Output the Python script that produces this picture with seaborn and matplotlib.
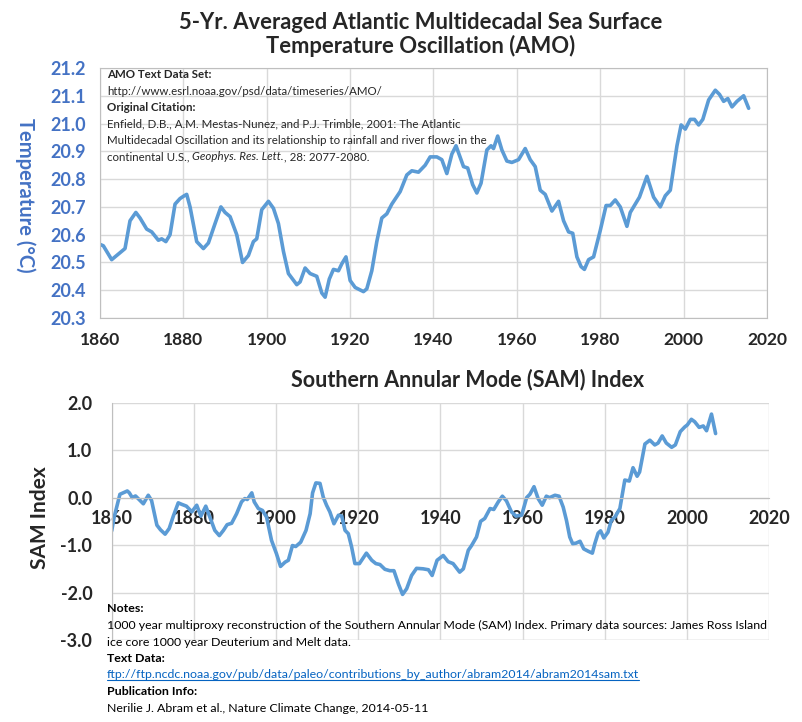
import matplotlib
matplotlib.use("Agg")
import matplotlib.pyplot as plt
import seaborn as sns
import pandas as pd

# AMO, 5-yr averaged
amo_year = [1860, 1860.8, 1862.8, 1865.2, 1866, 1867.2, 1868.6, 1869.6, 1871.2, 1872.4,
            1874, 1874.8, 1875.8, 1876.8, 1878, 1879.2, 1880.2, 1880.8, 1881.6, 1883.2,
            1884.8, 1886, 1887.6, 1889, 1890, 1891.2, 1892.8, 1894.2, 1895.6, 1896.8,
            1897.6, 1898.8, 1900.4, 1901.6, 1902.8, 1904, 1905.2, 1907.2, 1908, 1909.2,
            1910.4, 1912, 1913.2, 1914, 1915, 1916, 1917.2, 1918, 1919, 1920,
            1921.2, 1923.2, 1924, 1925.2, 1926.4, 1927.6, 1928.8, 1930, 1932, 1933.6,
            1934.8, 1936.4, 1938, 1939.2, 1940.8, 1942, 1943.2, 1944.4, 1945.4, 1947.2,
            1948.2, 1949.4, 1950.4, 1951.4, 1952.8, 1953.8, 1954.4, 1955.4, 1956.4, 1957.6,
            1958.8, 1960.4, 1962, 1963.2, 1964.4, 1965.6, 1966.8, 1968.4, 1970, 1971.2,
            1972.4, 1973.4, 1974.4, 1975.4, 1976.2, 1977.2, 1978.4, 1980, 1981.4, 1982.4,
            1983.6, 1984.8, 1986.4, 1987.2, 1988, 1989.4, 1991.2, 1992.8, 1994.4, 1995.6,
            1996.8, 1998.4, 1999.4, 2000.4, 2001.6, 2002.6, 2003.6, 2004.6, 2006, 2007.6,
            2008.6, 2009.6, 2010.6, 2011.6, 2012.8, 2014.4, 2015.6]
amo_temp = [20.565, 20.56, 20.51, 20.54, 20.55, 20.65, 20.68, 20.66, 20.62, 20.61,
            20.58, 20.585, 20.575, 20.60, 20.71, 20.73, 20.74, 20.745, 20.70, 20.575,
            20.55, 20.57, 20.64, 20.70, 20.68, 20.665, 20.60, 20.50, 20.525, 20.575,
            20.585, 20.69, 20.72, 20.695, 20.64, 20.54, 20.46, 20.42, 20.43, 20.48,
            20.46, 20.45, 20.39, 20.375, 20.44, 20.475, 20.47, 20.495, 20.52, 20.435,
            20.41, 20.395, 20.405, 20.47, 20.575, 20.66, 20.675, 20.71, 20.755, 20.815,
            20.83, 20.825, 20.85, 20.88, 20.88, 20.87, 20.82, 20.89, 20.92, 20.845,
            20.84, 20.78, 20.75, 20.785, 20.905, 20.92, 20.91, 20.955, 20.905, 20.865,
            20.86, 20.87, 20.91, 20.87, 20.845, 20.76, 20.745, 20.685, 20.72, 20.65,
            20.61, 20.605, 20.52, 20.485, 20.475, 20.51, 20.52, 20.615, 20.705, 20.705,
            20.725, 20.70, 20.63, 20.68, 20.70, 20.735, 20.81, 20.735, 20.70, 20.74,
            20.76, 20.92, 20.995, 20.98, 21.015, 21.015, 20.995, 21.015, 21.085, 21.12,
            21.105, 21.08, 21.09, 21.06, 21.08, 21.10, 21.055]

# SAM index reconstruction
sam_year = [1860, 1860.6, 1862, 1862.8, 1863.8, 1864.3, 1865, 1865.8, 1867.7, 1868.9,
            1869.7, 1871, 1871.9, 1873, 1874, 1875, 1876.2, 1877, 1878.2, 1879.5,
            1880.7, 1881.7, 1882.9, 1883.9, 1885.1, 1886.2, 1887.2, 1888.1, 1889.2, 1890.4,
            1891.6, 1892.4, 1893, 1894.1, 1894.7, 1895.7, 1896.7, 1897.7, 1898.9, 1900.1,
            1901.1, 1902.2, 1903, 1904, 1904.8, 1906, 1907.3, 1908.3, 1908.9, 1909.7,
            1910.7, 1911.5, 1912.3, 1913.1, 1914.1, 1915.2, 1916, 1916.8, 1917.6, 1918.4,
            1919.2, 1920.3, 1922, 1923.3, 1924.3, 1925.3, 1926.5, 1927.7, 1928.7, 1929.8,
            1930.8, 1931.8, 1933, 1934.2, 1935.8, 1937.1, 1938, 1939.2, 1940.7, 1941.9,
            1943.1, 1944.7, 1945.6, 1946.8, 1947.6, 1948.8, 1949.8, 1950.8, 1952.1, 1953,
            1954.1, 1955.1, 1956.1, 1957.3, 1958.4, 1959.8, 1961, 1961.8, 1962.8, 1963.8,
            1964.8, 1965.8, 1966.6, 1967.9, 1968.9, 1969.9, 1970.7, 1971.5, 1972.2, 1973,
            1974, 1974.9, 1976, 1977, 1977.6, 1978.4, 1979, 1979.8, 1980.8, 1981.6,
            1982.5, 1983.7, 1984.9, 1986, 1986.9, 1987.9, 1988.5, 1989.8, 1991, 1992.2,
            1993, 1994, 1995, 1996.3, 1997.2, 1998.4, 1999.5, 2000.1, 2001.1, 2001.9,
            2003, 2004, 2004.8, 2006, 2007]
sam_index = [-0.70, -0.41, 0.07, 0.10, 0.14, 0.10, 0.0, 0.035, -0.13, 0.05,
             -0.06, -0.58, -0.68, -0.77, -0.65, -0.39, -0.11, -0.14, -0.18, -0.30,
             -0.16, -0.39, -0.18, -0.41, -0.69, -0.80, -0.69, -0.57, -0.54, -0.34,
             -0.09, -0.02, -0.04, 0.10, -0.09, -0.23, -0.27, -0.41, -0.90, -1.18,
             -1.45, -1.36, -1.32, -1.01, -1.03, -0.94, -0.69, -0.34, 0.10, 0.31,
             0.30, 0.01, -0.16, -0.30, -0.55, -0.37, -0.39, -0.69, -0.76, -1.04,
             -1.39, -1.39, -1.17, -1.32, -1.39, -1.41, -1.51, -1.54, -1.54, -1.82,
             -2.04, -1.92, -1.64, -1.49, -1.50, -1.52, -1.64, -1.32, -1.22, -1.35,
             -1.39, -1.57, -1.50, -1.11, -1.01, -0.83, -0.50, -0.44, -0.23, -0.25,
             -0.09, 0.03, -0.07, -0.30, -0.39, -0.37, 0.0, 0.07, 0.23, -0.02,
             -0.16, 0.03, 0.0, 0.05, 0.03, -0.20, -0.48, -0.83, -0.97, -0.96,
             -0.92, -1.08, -1.13, -1.17, -0.97, -0.75, -0.70, -0.85, -0.73, -0.48,
             -0.41, -0.23, 0.37, 0.35, 0.63, 0.45, 0.54, 1.13, 1.21, 1.11,
             1.15, 1.30, 1.15, 1.06, 1.11, 1.39, 1.49, 1.53, 1.65, 1.60,
             1.48, 1.51, 1.41, 1.76, 1.35]

year_ticks = list(range(1860, 2021, 20))
amo_ticks = [20.3, 20.4, 20.5, 20.6, 20.7, 20.8, 20.9, 21.0, 21.1, 21.2]
sam_ticks = [-3.0, -2.0, -1.0, 0.0, 1.0, 2.0]

amo_df = pd.DataFrame({"year": amo_year, "temp": amo_temp})
sam_df = pd.DataFrame({"year": sam_year, "sam": sam_index})

sns.set_style("white")
plt.rcParams["font.family"] = ["Lato", "DejaVu Sans"]

line_col = "#5B9BD5"
grid_col = "#D9D9D9"
blue_txt = "#4472C4"

W, H = 803, 722
fig = plt.figure(figsize=(W / 100, H / 100), dpi=100)

def box(l, t, r, b):
    return [l / W, 1 - b / H, (r - l) / W, (b - t) / H]

def fx(px):
    return px / W

def fy(py):
    return 1 - py / H

# ---- top: AMO ----
ax1 = fig.add_axes(box(100, 68, 767, 318))
sns.lineplot(data=amo_df, x="year", y="temp", ax=ax1, color=line_col, linewidth=2.6)
ax1.set_xlim(1860, 2020)
ax1.set_ylim(20.3, 21.2)
ax1.set_xticks(year_ticks)
ax1.set_yticks(amo_ticks)
ax1.set_yticklabels([f"{v:.1f}" for v in amo_ticks])
ax1.grid(True, color=grid_col, linewidth=1)
for s in ax1.spines.values():
    s.set_color("#BFBFBF")
ax1.tick_params(length=0, pad=10)
for lab in ax1.get_yticklabels():
    lab.set_color(blue_txt)
    lab.set_fontweight("bold")
    lab.set_fontsize(13)
for lab in ax1.get_xticklabels():
    lab.set_fontweight("bold")
    lab.set_fontsize(12.5)
ax1.set_xlabel("")
ax1.set_ylabel("")
fig.text(fx(25), fy(195), "Temperature (°C)", color=blue_txt, fontsize=14.5,
         fontweight="bold", rotation=270, ha="center", va="center")

fig.text(fx(421), fy(12), "5-Yr. Averaged Atlantic Multidecadal Sea Surface\nTemperature Oscillation (AMO)",
         ha="center", va="top", fontsize=15.8, fontweight="bold", linespacing=1.1)

amo_note = [("AMO Text Data Set:", "bold"),
            ("http://www.esrl.noaa.gov/psd/data/timeseries/AMO/", "normal"),
            ("Original Citation:", "bold"),
            ("Enfield, D.B., A.M. Mestas-Nunez, and P.J. Trimble, 2001: The Atlantic", "normal"),
            ("Multidecadal Oscillation and its relationship to rainfall and river flows in the", "normal")]
for i, (txt, wt) in enumerate(amo_note):
    fig.text(fx(107), fy(75 + 16.3 * i), txt, fontsize=8.3, fontweight=wt, va="center")

# last citation line with italic journal name
fig.canvas.draw()
ren = fig.canvas.get_renderer()
x_px = 107
for part, style in [("continental U.S., ", "normal"), ("Geophys. Res. Lett.", "italic"),
                    (", 28: 2077-2080.", "normal")]:
    t = fig.text(fx(x_px), fy(75 + 16.3 * 5), part, fontsize=8.3, style=style, va="center")
    x_px = t.get_window_extent(ren).x1

# ---- bottom: SAM ----
ax2 = fig.add_axes(box(111.7, 402.7, 769, 640))
sns.lineplot(data=sam_df, x="year", y="sam", ax=ax2, color=line_col, linewidth=2.6)
ax2.set_xlim(1860, 2020)
ax2.set_ylim(-3, 2)
ax2.set_xticks(year_ticks)
ax2.set_yticks(sam_ticks)
ax2.set_yticklabels([f"{v:.1f}" for v in sam_ticks])
ax2.grid(True, color=grid_col, linewidth=1)
for s in ["top", "right"]:
    ax2.spines[s].set_visible(False)
ax2.spines["left"].set_color("#BFBFBF")
ax2.spines["bottom"].set_position(("data", 0))
ax2.spines["bottom"].set_color("#BFBFBF")
ax2.tick_params(length=0)
ax2.tick_params(axis="y", pad=14)
ax2.tick_params(axis="x", pad=9)
ax2.axhline(-3, color=grid_col, linewidth=1)
for lab in ax2.get_yticklabels() + ax2.get_xticklabels():
    lab.set_fontweight("bold")
    lab.set_fontsize(13)
ax2.set_xlabel("")
ax2.set_ylabel("")
fig.text(fx(40), fy(518), "SAM Index", fontsize=15, fontweight="bold",
         rotation=90, ha="center", va="center")
fig.text(fx(468), fy(380), "Southern Annular Mode (SAM) Index", fontsize=15.5,
         fontweight="bold", ha="center", va="center")

sam_note = [("Notes:", "bold", "black"),
            ("1000 year multiproxy reconstruction of the Southern Annular Mode (SAM) Index. Primary data sources: James Ross Island", "normal", "black"),
            ("ice core 1000 year Deuterium and Melt data.", "normal", "black"),
            ("Text Data:", "bold", "black"),
            ("ftp://ftp.ncdc.noaa.gov/pub/data/paleo/contributions_by_author/abram2014/abram2014sam.txt", "normal", "#0563C1"),
            ("Publication Info:", "bold", "black"),
            ("Nerilie J. Abram et al., Nature Climate Change, 2014-05-11", "normal", "black")]
for i, (txt, wt, col) in enumerate(sam_note):
    t = fig.text(fx(107), fy(609 + 16.5 * i), txt, fontsize=8.9, fontweight=wt,
                 color=col, va="center")
    if col != "black":
        bb = t.get_window_extent(ren)
        fig.add_artist(plt.Line2D([bb.x0 / W, bb.x1 / W], [(bb.y0 + 1) / H, (bb.y0 + 1) / H],
                                  color=col, linewidth=0.8, transform=fig.transFigure))

fig.savefig("out.png", dpi=100)
